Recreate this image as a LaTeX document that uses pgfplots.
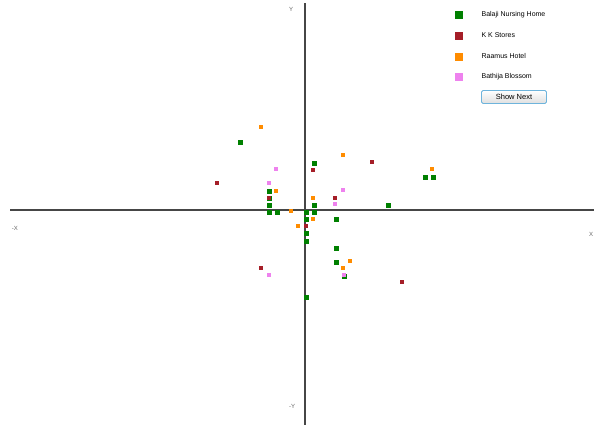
\documentclass[border=0pt]{standalone}
\usepackage{pgfplots}
\pgfplotsset{compat=1.18}
\usepackage{fontspec}
\setmainfont{Liberation Sans}
\definecolor{cgreen}{RGB}{0,128,0}
\definecolor{cred}{RGB}{165,30,40}
\definecolor{corange}{RGB}{255,140,0}
\definecolor{cviolet}{RGB}{238,130,238}
\definecolor{caxis}{RGB}{70,70,70}
\begin{document}
\begin{tikzpicture}
\begin{axis}[
    name=ax,
    scale only axis,
    width=594pt, height=427pt,
    xmin=-305, xmax=289,
    ymin=-217, ymax=210,
    hide axis,
    clip=false,
    legend style={at={(axis cs:150,200.5)}, anchor=north west, draw=none, fill=none,
        inner sep=0pt, font=\fontsize{7}{8}\selectfont, row sep=10.2pt,
        /tikz/every odd column/.append style={column sep=17pt}},
    legend cell align=left,
]
% axes
\addplot[caxis, line width=2.8pt, forget plot] coordinates {(-295,0) (289,0)};
\addplot[caxis, line width=2.8pt, forget plot] coordinates {(0,-215) (0,207)};

% Balaji Nursing Home
\addplot[only marks, mark=square*, mark size=2.2pt, cgreen,
    legend image code/.code={\fill[cgreen] (0pt,-3.5pt) rectangle (7pt,3.5pt);}] coordinates {
    (-65,68) (9,47) (120,33) (128,33) (-36,19) (-36,12) (-36,5)
    (-36,-2) (-28,-2) (1,-2) (9,5) (9,-2) (83,5) (1,-9) (31,-9)
    (1,-23) (1,-31) (31,-38) (31,-52) (39,-66) (1,-87)
};
\addlegendentry{Balaji Nursing Home}
% K K Stores
\addplot[only marks, mark=square*, mark size=1.5pt, cred,
    legend image code/.code={\fill[cred] (0pt,-3.5pt) rectangle (7pt,3.5pt);}] coordinates {
    (-88,27) (8,40) (67,48) (-36,12) (30,12) (1,-16) (-44,-58) (97,-72)
};
\addlegendentry{K K Stores}
% Raamus Hotel
\addplot[only marks, mark=square*, mark size=1.5pt, corange,
    legend image code/.code={\fill[corange] (0pt,-3.5pt) rectangle (7pt,3.5pt);}] coordinates {
    (-44,83) (38,55) (127,41) (-29,19) (8,12) (-14,-1) (8,-9)
    (-7,-16) (45,-51) (38,-58)
};
\addlegendentry{Raamus Hotel}
% Bathija Blossom
\addplot[only marks, mark=square*, mark size=1.5pt, cviolet,
    legend image code/.code={\fill[cviolet] (0pt,-3.5pt) rectangle (7pt,3.5pt);}] coordinates {
    (-29,41) (-36,27) (38,20) (30,6) (-36,-65) (39,-65)
};
\addlegendentry{Bathija Blossom}

\node[font=\fontsize{6}{6}\selectfont, text=gray!80!black] at (axis cs:-14,201) {Y};
\node[font=\fontsize{6}{6}\selectfont, text=gray!80!black] at (axis cs:-290,-18) {-X};
\node[font=\fontsize{6}{6}\selectfont, text=gray!80!black] at (axis cs:286,-24) {X};
\node[font=\fontsize{6}{6}\selectfont, text=gray!80!black] at (axis cs:-13,-196) {-Y};
\node[draw={rgb,255:red,110;green,180;blue,220}, line width=0.9pt, rounded corners=1.5pt,
      top color=white, bottom color=gray!25, minimum width=65pt, minimum height=13pt,
      inner sep=0pt, font=\fontsize{7.5}{8}\selectfont] at (axis cs:209,113) {Show Next};
\end{axis}
\pgfresetboundingbox
\path (ax.south west) rectangle (ax.north east);
\end{tikzpicture}
\end{document}
